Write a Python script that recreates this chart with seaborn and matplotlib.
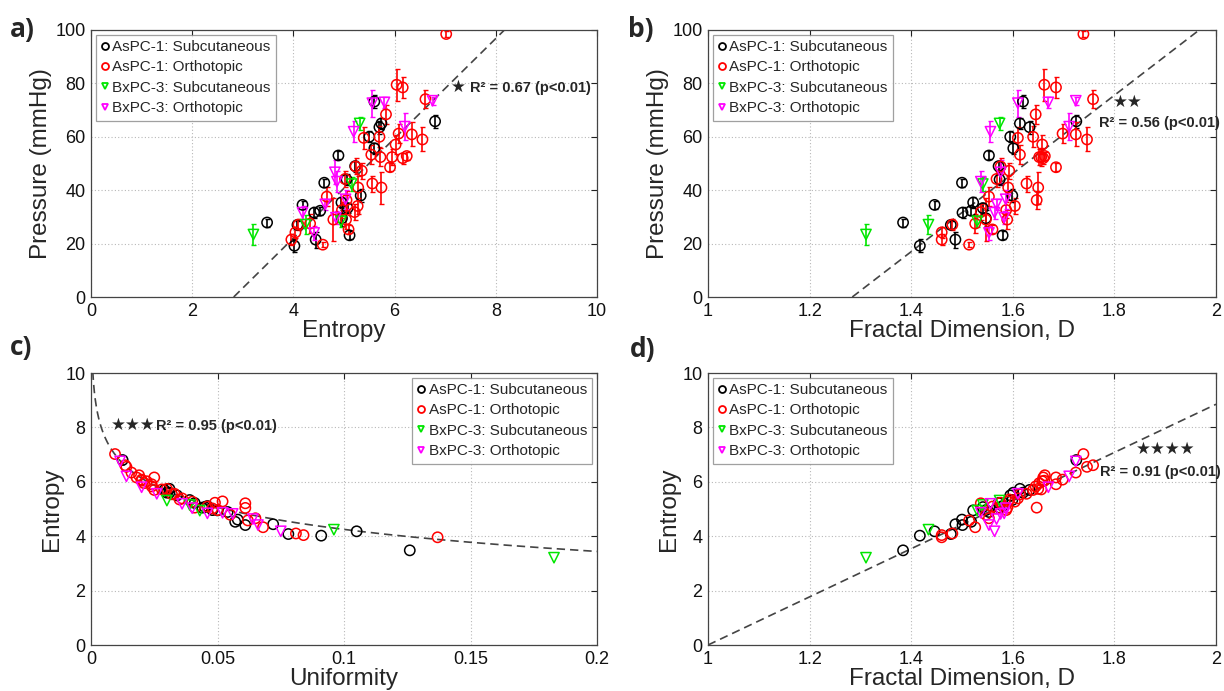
import numpy as np
import matplotlib
matplotlib.use("Agg")
import matplotlib.pyplot as plt
from matplotlib.lines import Line2D
import seaborn as sns

# ---------------- data (one entry per tumour) ----------------
groups = ["AsPC-1: Subcutaneous", "AsPC-1: Orthotopic",
          "BxPC-3: Subcutaneous", "BxPC-3: Orthotopic"]
colors = ["#000000", "#ff0000", "#00e600", "#ff00ff"]
markers = ["o", "o", "v", "v"]

# AsPC-1 subcutaneous
as_sc_entropy = [3.48, 4.02, 4.08, 4.18, 4.41, 4.53, 4.44, 4.61, 4.89, 4.96, 5.07,
                 5.11, 5.33, 5.50, 5.60, 5.60, 5.70, 5.74, 6.80, 5.05, 5.22, 4.95]
as_sc_fractal = [1.384, 1.417, 1.478, 1.446, 1.501, 1.518, 1.487, 1.500, 1.553, 1.547, 1.541,
                 1.580, 1.599, 1.595, 1.601, 1.620, 1.633, 1.614, 1.725, 1.574, 1.572, 1.522]
as_sc_uniform = [0.126, 0.091, 0.078, 0.105, 0.061, 0.057, 0.072, 0.058, 0.054, 0.048, 0.045,
                 0.046, 0.039, 0.034, 0.031, 0.030, 0.029, 0.031, 0.0125, 0.044, 0.041, 0.050]
as_sc_pressure = [27.9, 19.2, 27.0, 34.5, 31.6, 32.3, 21.5, 42.8, 53.0, 29.5, 33.3,
                  23.1, 38.0, 60.0, 55.7, 73.2, 63.6, 65.0, 65.8, 44.0, 49.0, 35.4]
as_sc_perr = [1.5, 2.5, 1.5, 1.5, 2.0, 1.5, 3.0, 1.5, 1.5, 3.0, 2.0,
              1.5, 2.5, 2.0, 2.0, 2.5, 2.5, 2.0, 2.5, 2.0, 2.0, 2.0]

# AsPC-1 orthotopic
as_or_entropy = [3.96, 4.04, 4.10, 4.33, 4.58, 4.66, 4.79, 4.96, 5.02, 5.09, 5.04, 5.21,
                 5.23, 5.27, 5.28, 5.35, 5.39, 5.54, 5.56, 5.70, 5.72, 5.74, 5.83, 5.91,
                 5.95, 6.02, 6.04, 6.08, 6.16, 6.16, 6.24, 6.34, 6.55, 6.61, 7.02, 5.05]
as_or_fractal = [1.460, 1.460, 1.481, 1.526, 1.514, 1.553, 1.547, 1.587, 1.568, 1.560, 1.589, 1.537,
                 1.576, 1.604, 1.591, 1.593, 1.610, 1.614, 1.627, 1.640, 1.656, 1.650, 1.645, 1.685,
                 1.652, 1.658, 1.662, 1.698, 1.685, 1.660, 1.663, 1.724, 1.746, 1.758, 1.739, 1.647]
as_or_uniform = [0.137, 0.084, 0.081, 0.068, 0.062, 0.065, 0.055, 0.050, 0.048, 0.046, 0.061, 0.061,
                 0.049, 0.040, 0.052, 0.035, 0.036, 0.032, 0.033, 0.025, 0.028, 0.030, 0.024, 0.024,
                 0.021, 0.022, 0.020, 0.020, 0.025, 0.018, 0.019, 0.016, 0.014, 0.0135, 0.0095, 0.041]
as_or_pressure = [21.5, 24.2, 27.1, 27.5, 19.6, 37.6, 29.0, 32.6, 44.2, 25.3, 29.0, 31.8,
                  48.9, 34.1, 41.0, 47.3, 59.6, 53.3, 42.5, 60.0, 52.4, 41.0, 68.4, 48.6,
                  52.4, 57.1, 79.5, 61.2, 78.5, 52.0, 52.8, 60.9, 59.0, 74.1, 98.5, 36.3]
as_or_perr = [2.0, 2.0, 2.0, 3.5, 1.0, 3.5, 8.0, 3.0, 3.0, 1.5, 3.5, 3.0,
              3.0, 3.0, 4.5, 3.0, 4.0, 3.5, 3.0, 4.0, 3.5, 6.0, 3.5, 1.5,
              3.0, 3.5, 6.0, 3.5, 4.0, 2.0, 1.5, 4.5, 4.5, 3.5, 1.0, 3.5]

# BxPC-3 subcutaneous
bx_sc_entropy = [3.21, 4.24, 4.94, 5.15, 5.31]
bx_sc_fractal = [1.311, 1.434, 1.530, 1.541, 1.574]
bx_sc_uniform = [0.183, 0.096, 0.043, 0.039, 0.030]
bx_sc_pressure = [23.4, 27.1, 28.4, 42.3, 65.0]
bx_sc_perr = [4.0, 3.5, 2.0, 2.5, 2.5]

# BxPC-3 orthotopic
bx_or_entropy = [4.18, 4.41, 4.63, 4.82, 4.86, 5.03, 4.84, 5.19, 5.56, 5.80, 6.20, 6.75]
bx_or_fractal = [1.564, 1.553, 1.568, 1.576, 1.537, 1.586, 1.583, 1.556, 1.610, 1.670, 1.711, 1.724]
bx_or_uniform = [0.075, 0.066, 0.064, 0.056, 0.052, 0.040, 0.046, 0.036, 0.026, 0.020, 0.014, 0.0115]
bx_or_pressure = [31.6, 24.0, 34.7, 46.7, 43.2, 36.6, 29.7, 61.9, 72.6, 72.9, 63.8, 73.5]
bx_or_perr = [2.5, 2.5, 2.0, 4.5, 4.0, 3.5, 2.5, 4.0, 5.0, 2.0, 5.0, 1.5]

# fit models shown as dashed lines
fit_a = (2.82, 8.17)         # entropy at P=0 and P=100
fit_b = (1.284, 1.967)       # fractal D at P=0 and P=100
fit_c = (4.25, 1.169)        # E = c0 - c1*ln(U/0.1)
fit_d = 8.85                 # E = k*(D-1)

entropy = [as_sc_entropy, as_or_entropy, bx_sc_entropy, bx_or_entropy]
fractal = [as_sc_fractal, as_or_fractal, bx_sc_fractal, bx_or_fractal]
uniform = [as_sc_uniform, as_or_uniform, bx_sc_uniform, bx_or_uniform]
pressure = [as_sc_pressure, as_or_pressure, bx_sc_pressure, bx_or_pressure]
perr = [as_sc_perr, as_or_perr, bx_sc_perr, bx_or_perr]

# ---------------- style ----------------
sns.set_style("white")
plt.rcParams["font.family"] = ["Liberation Sans", "DejaVu Sans"]
plt.rcParams["axes.linewidth"] = 0.9

W, H = 1224, 691
fig = plt.figure(figsize=(W / 100, H / 100), dpi=100)


def pos(l, r, t, b):
    return [l / W, 1 - b / H, (r - l) / W, (b - t) / H]


ax_a = fig.add_axes(pos(91, 597, 30, 297))
ax_b = fig.add_axes(pos(708, 1216, 30, 297))
ax_c = fig.add_axes(pos(91, 597, 373, 645))
ax_d = fig.add_axes(pos(708, 1216, 373, 645))


def style(ax, xlim, ylim, xticks, yticks, xtl, xlabel, ylabel):
    ax.set_xlim(*xlim)
    ax.set_ylim(*ylim)
    ax.set_xticks(xticks)
    ax.set_xticklabels(xtl)
    ax.set_yticks(yticks)
    ax.set_yticklabels([f"{v:g}" for v in yticks])
    ax.grid(True, linestyle=(0, (1, 2)), color="#b8b8b8", linewidth=0.8)
    ax.set_axisbelow(True)
    ax.tick_params(direction="in", length=4, width=0.8, top=True, right=True,
                   labelsize=13, pad=4, colors="#222222", labelcolor="#111111")
    for s in ax.spines.values():
        s.set_color("#444444")
    ax.set_xlabel(xlabel, fontsize=17.5, labelpad=0)
    ax.set_ylabel(ylabel, fontsize=17.5, labelpad=2)


def scatter(ax, xs, ys, errs=None):
    for i in range(4):
        if errs is not None:
            ax.errorbar(xs[i], ys[i], yerr=errs[i], fmt="none", ecolor=colors[i],
                        elinewidth=1.2, capsize=1.8, capthick=1.0, zorder=3)
        sns.scatterplot(x=xs[i], y=ys[i], ax=ax, marker=markers[i], s=55,
                        color=colors[i], linewidth=1.1, legend=False, zorder=4)
        coll = ax.collections[-1]
        coll.set_facecolor("none")
        coll.set_edgecolor(colors[i])


def legend(ax, loc):
    handles = [Line2D([], [], marker=markers[i], mfc="none", mec=colors[i], mew=1.3,
                      ms=5, ls="none") for i in range(4)]
    lg = ax.legend(handles, groups, loc=loc, fontsize=11, frameon=True,
                   fancybox=False, edgecolor="#888888", handlelength=0.5,
                   handletextpad=0.25, borderpad=0.35, labelspacing=0.42,
                   borderaxespad=0.3)
    lg.get_frame().set_linewidth(0.9)


dash = dict(color="#444444", linestyle=(0, (5, 3)), linewidth=1.2, zorder=2)
ann = dict(fontsize=10.5, fontweight="bold", va="center", ha="left")
star = dict(fontsize=12, fontweight="bold", va="center", family=["DejaVu Sans"])

# ---- a) ----
style(ax_a, (0, 10), (0, 100), range(0, 11, 2), range(0, 101, 20),
      [str(v) for v in range(0, 11, 2)], "Entropy", "Pressure (mmHg)")
sns.lineplot(x=np.array(fit_a), y=[0, 100], ax=ax_a, **dash)
scatter(ax_a, entropy, pressure, perr)
legend(ax_a, "upper left")
ax_a.text(7.12, 78.6, "★", ha="left", **star)
ax_a.text(7.5, 78.2, "R² = 0.67 (p<0.01)", **ann)

# ---- b) ----
dt = [1, 1.2, 1.4, 1.6, 1.8, 2]
style(ax_b, (1, 2), (0, 100), dt, range(0, 101, 20),
      [f"{v:g}" for v in dt], "Fractal Dimension, D", "Pressure (mmHg)")
sns.lineplot(x=np.array(fit_b), y=[0, 100], ax=ax_b, **dash)
scatter(ax_b, fractal, pressure, perr)
legend(ax_b, "upper left")
ax_b.text(1.826, 73.0, "★★", ha="center", **star)
ax_b.text(1.770, 65.0, "R² = 0.56 (p<0.01)", clip_on=False, **ann)

# ---- c) ----
ut = [0, 0.05, 0.1, 0.15, 0.2]
style(ax_c, (0, 0.2), (0, 10), ut, range(0, 11, 2),
      ["0", "0.05", "0.1", "0.15", "0.2"], "Uniformity", "Entropy")
uu = np.geomspace(0.0007, 0.2, 200)
sns.lineplot(x=uu, y=fit_c[0] - fit_c[1] * np.log(uu / 0.1), ax=ax_c, **dash)
scatter(ax_c, uniform, entropy)
legend(ax_c, "upper right")
ax_c.text(0.0080, 8.1, "★★★", ha="left", **star)
ax_c.text(0.0255, 8.05, "R² = 0.95 (p<0.01)", **ann)

# ---- d) ----
style(ax_d, (1, 2), (0, 10), dt, range(0, 11, 2),
      [f"{v:g}" for v in dt], "Fractal Dimension, D", "Entropy")
sns.lineplot(x=[1.0, 2.0], y=[0.0, fit_d], ax=ax_d, **dash)
scatter(ax_d, fractal, entropy)
legend(ax_d, "upper left")
ax_d.text(1.9, 7.2, "★★★★", ha="center", **star)
ax_d.text(1.772, 6.37, "R² = 0.91 (p<0.01)", clip_on=False, **ann)

# panel letters
for lab, x, y in [("a)", 10, 30), ("b)", 628, 30), ("c)", 10, 348), ("d)", 630, 350)]:
    fig.text(x / W, 1 - y / H, lab, fontsize=19, fontweight="bold",
             family="Open Sans", va="center", ha="left")

fig.savefig("out.png", dpi=100)
